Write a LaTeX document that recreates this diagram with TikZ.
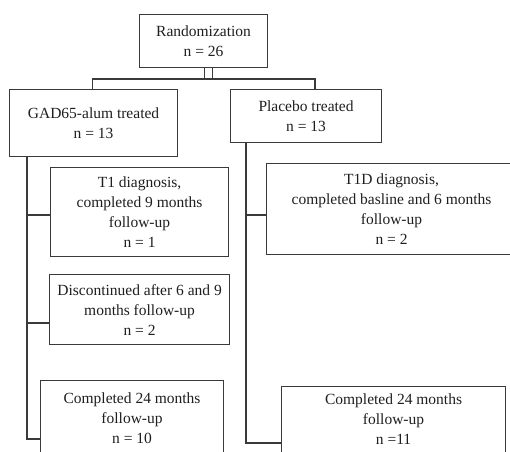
\documentclass[tikz,border=0pt]{standalone}
\usepackage{fontspec}
\setmainfont{Liberation Serif}
\definecolor{ln}{HTML}{3A3A3A}
\definecolor{tx}{HTML}{1E1E1E}
\begin{document}
\begin{tikzpicture}[x=1pt,y=-1pt,
  box/.style={draw=ln, line width=1.1pt, anchor=north west, inner sep=0pt, align=center,
    font=\fontsize{15.5}{20}\selectfont, text=tx},
  conn/.style={draw=ln, line width=1.1pt}]
\useasboundingbox (0,0) rectangle (510,451);
\clip (0,0) rectangle (510,451);
\node[box, minimum width=128pt, minimum height=53pt] (rand) at (139,14) {Randomization\\n = 26};
\node[box, minimum width=168pt, minimum height=67pt] (gad) at (9,89) {GAD65-alum treated\\n = 13};
\node[box, minimum width=151pt, minimum height=53pt] (plac) at (230,89) {Placebo treated\\n = 13};
\node[box, minimum width=178pt, minimum height=89pt] (t1) at (50,167) {T1 diagnosis,\\completed 9 months\\follow-up\\n = 1};
\node[box, minimum width=180pt, minimum height=70pt] (disc) at (49,274) {Discontinued after 6 and 9\\months follow-up\\n = 2};
\node[box, minimum width=183pt, minimum height=76pt] (compL) at (40,380) {Completed 24 months\\follow-up\\n = 10};
\node[box, minimum width=250pt, minimum height=91pt] (t1d) at (266,163) {T1D diagnosis,\\completed basline and 6 months\\follow-up\\n = 2};
\node[box, minimum width=224pt, minimum height=66pt] (compR) at (281,386) {Completed 24 months\\follow-up\\n =11};
% top connectors
\coordinate (hl) at (92.5,79);
\coordinate (hr) at (315,79);
\draw[conn] ([xshift=1pt]rand.south) -- ([xshift=1pt]rand.south |- hl);
\draw[conn] ([xshift=9pt]rand.south) -- ([xshift=9pt]rand.south |- hl);
\draw[conn] (gad.north -| hl) -- (hl) -- (hr) -- (plac.north -| hr);
% left trunk
\coordinate (lt) at (27,439);
\coordinate (b1) at (27,215);
\coordinate (b2) at (27,323);
\draw[conn] (gad.south -| lt) -- (lt) -- (lt -| compL.west);
\draw[conn] (b1) -- (b1 -| t1.west);
\draw[conn] (b2) -- (b2 -| disc.west);
% right trunk
\coordinate (rt) at (246,443);
\coordinate (b3) at (246,215);
\draw[conn] (plac.south -| rt) -- (rt) -- (rt -| compR.west);
\draw[conn] (b3) -- (b3 -| t1d.west);
\end{tikzpicture}
\end{document}
